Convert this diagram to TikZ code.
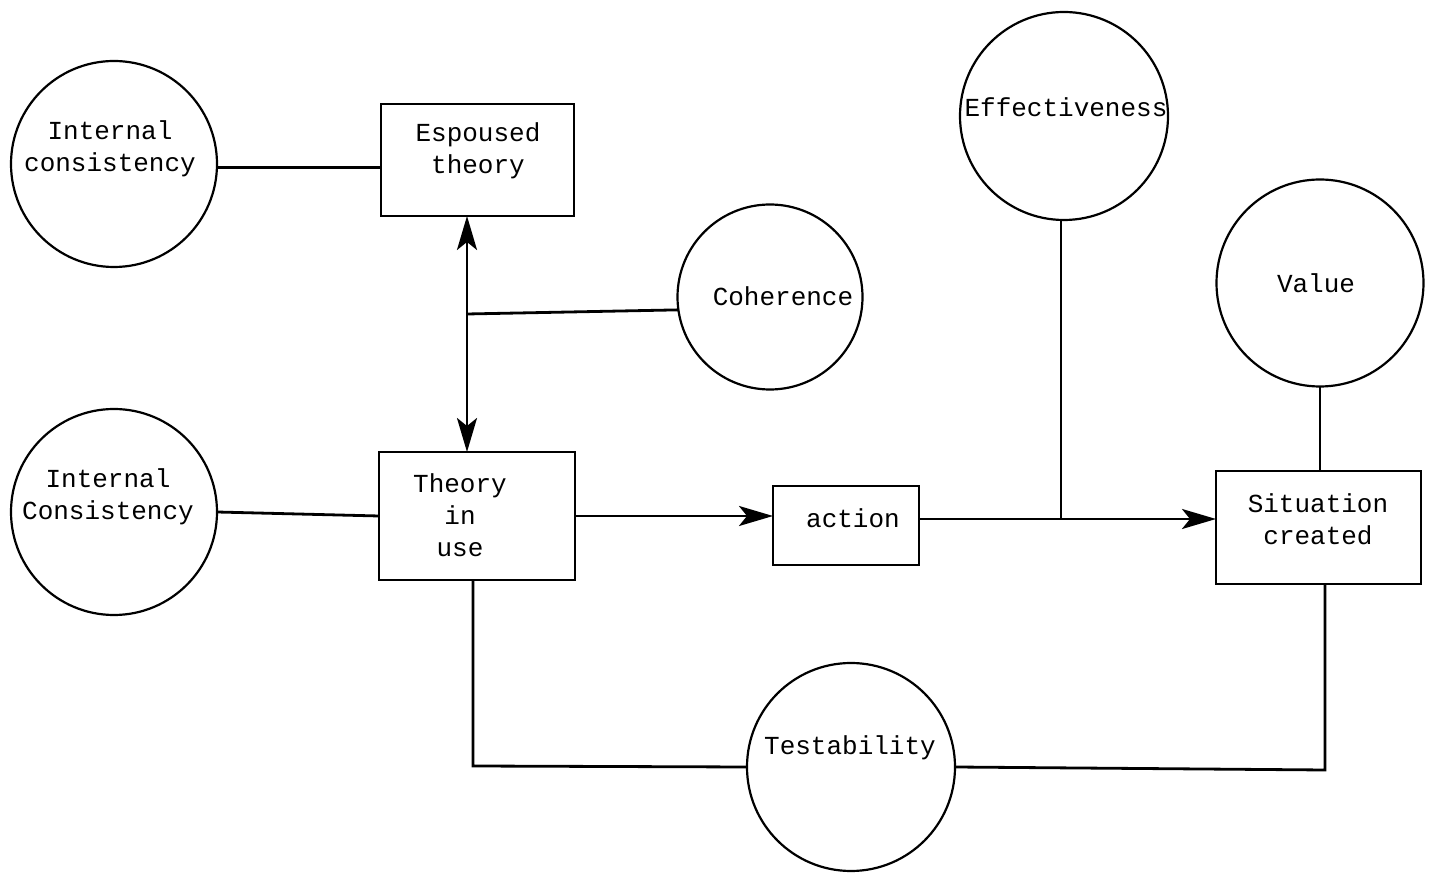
\documentclass[tikz,border=0pt]{standalone}
\usepackage{fontspec}
\setmonofont{Liberation Mono}
\usetikzlibrary{arrows.meta}
\begin{document}
\begin{tikzpicture}[x=0.5pt,y=-0.5pt,
  conn/.style={line width=1.4pt},
  arr/.style={conn,-{Stealth[length=17pt,width=10pt,inset=4pt]}},
  darr/.style={conn,{Stealth[length=17pt,width=10pt,inset=4pt]}-{Stealth[length=17pt,width=10pt,inset=4pt]}},
  crit/.style={circle,draw,line width=1.1pt,inner sep=0pt,outer sep=0pt},
  boxn/.style={rectangle,draw,line width=1.3pt,inner sep=0pt,outer sep=0pt},
  lbl/.style={font=\ttfamily\fontsize{13}{16}\selectfont,align=center,inner sep=0pt}]
\useasboundingbox (0,0) rectangle (1431,876);
% circles
\node[crit,minimum size=103pt] (ic1) at (114,164) {};
\node[crit,minimum size=104pt] (eff) at (1064,116) {};
\node[crit,minimum size=92.5pt] (coh) at (770,297) {};
\node[crit,minimum size=103.5pt] (val) at (1320,283) {};
\node[crit,minimum size=103pt] (ic2) at (114,512) {};
\node[crit,minimum size=104pt] (test) at (851,767) {};
% boxes
\node[boxn,minimum width=96.5pt,minimum height=56pt] (esp) at (477.5,160) {};
\node[boxn,minimum width=98pt,minimum height=64pt] (tiu) at (477,516) {};
\node[boxn,minimum width=73pt,minimum height=39.5pt] (act) at (846,525.5) {};
\node[boxn,minimum width=102.5pt,minimum height=56.5pt] (sit) at (1318.5,527.5) {};
% labels
\node[lbl] (tic1) at (110,149) {Internal\\consistency};
\node[lbl] (tesp) at (478,151) {Espoused\\theory};
\node[lbl] (tcoh) at (783,296) {Coherence};
\node[lbl] (teff) at (1066,107) {Effectiveness};
\node[lbl] (tval) at (1316,283) {Value};
\node[lbl] (tic2) at (108,497) {Internal\\Consistency};
\node[lbl] (ttiu) at (460,515) {Theory\\in\\use};
\node[lbl] (tact) at (853,518) {action};
\node[lbl] (tsit) at (1318,519) {Situation\\created};
\node[lbl] (ttest) at (850,748) {Testability};
% junction coordinates
\coordinate (dv) at (467,314);
\coordinate (ej) at (1061,519);
\coordinate (tl) at (473,766);
\coordinate (tr) at (1325,770);
% connectors
\draw[conn] (ic1.-2) -- (esp.west |- ic1.-2);
\draw[conn] (ic2.east) -- (tiu.west);
\draw[darr] (esp.south -| dv) -- (tiu.north -| dv);
\draw[conn] (dv) -- (coh.188);
\draw[arr] (tiu.east) -- (tiu.east -| act.west);
\draw[conn] (act.east |- ej) -- (ej);
\draw[arr] (ej) -- (ej -| sit.west);
\draw[conn] (eff.south -| ej) -- (ej);
\draw[conn] (val.south) -- (val.south |- sit.north);
\draw[conn] (tiu.south -| tl) -- (tl) -- (test.west);
\draw[conn] (test.east) -- (tr) -- (sit.south -| tr);
\end{tikzpicture}
\end{document}
